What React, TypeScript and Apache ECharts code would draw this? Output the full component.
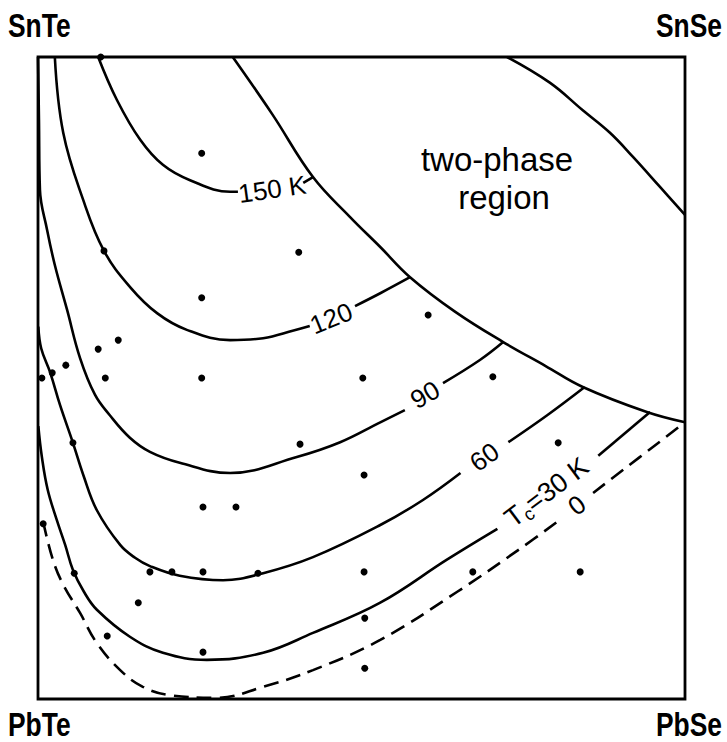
import React, { useEffect, useRef } from 'react';
import * as echarts from 'echarts';

// Composition square: x = Se fraction (0 = Te side, 100 = Se side), y = Sn fraction (0 = Pb, 100 = Sn)
const cornerLabels = ['SnTe', 'SnSe', 'PbTe', 'PbSe'];
const regionLabel = ['two-phase', 'region'];

const twoPhaseBoundary = [
  [30.1, 100], [36.2, 91.1], [42.5, 81.3], [48.2, 75.1], [52.9, 70.4], [57.5, 65.7],
  [64.5, 60.3], [71.9, 55.6], [78.4, 51.9], [84.2, 48.6], [94.1, 44.7], [100, 43.1],
];
const cornerBoundary = [
  [72.5, 100], [79.1, 96.0], [84.2, 91.7], [88.4, 88.2], [92.0, 84.4], [96.1, 79.8], [100, 75.4],
];

const contour150Left = [
  [9.3, 100], [12.2, 93.3], [15.8, 87.1], [19.3, 83.2], [23.5, 80.8], [29.7, 79.0], [30.9, 79.0],
];
const contour150Right = [[41.0, 80.4], [42.5, 81.3]];

const contour120Left = [
  [2.6, 100], [3.9, 88.2], [7.0, 77.7], [10.2, 69.8], [14.2, 64.2], [18.4, 60.1], [23.0, 57.5],
  [29.7, 55.9], [34.8, 56.2], [39.5, 57.4], [42.0, 58.1],
];
const contour120Right = [[49.0, 61.2], [52.9, 63.2], [57.5, 65.7]];

const contour90Left = [
  [0, 100], [0.15, 90.2], [0.3, 79.3], [1.4, 73.1], [2.6, 67.6], [4.5, 60.6], [6.5, 53.1],
  [8.8, 47.4], [11.1, 44.2], [14.2, 40.7], [17.3, 38.5], [21.9, 36.8], [29.7, 35.2],
  [40.0, 37.7], [46.7, 40.0], [52.9, 43.1], [56.7, 45.0],
];
const contour90Right = [[62.6, 49.2], [68.3, 52.8], [71.9, 55.6]];

const contour60Left = [
  [0.05, 58.0], [0.5, 54.6], [1.9, 50.8], [3.4, 45.8], [5.4, 39.9], [7.0, 34.9], [9.1, 29.4],
  [12.7, 24.0], [15.0, 22.0], [17.3, 20.7], [21.9, 19.2], [28.6, 18.5], [34.8, 19.6],
  [42.5, 22.1], [52.9, 27.1], [59.5, 31.0], [65.3, 35.2],
];
const contour60Right = [[72.7, 40.0], [78.7, 44.2], [84.5, 48.6]];

const contour30Left = [
  [0.05, 42.5], [0.6, 37.7], [1.5, 32.6], [2.9, 27.9], [4.2, 24.0], [5.4, 20.1], [7.1, 16.7],
  [9.1, 13.9], [14.2, 9.7], [19.3, 7.2], [26.1, 6.1], [34.8, 7.2], [42.5, 10.3], [52.9, 15.0],
  [63.2, 21.7], [71.0, 26.5],
];
const contour30Right = [[86.6, 37.9], [94.6, 44.7]];

const contour0Left = [
  [0.8, 27.6], [2.3, 21.7], [3.9, 17.8], [6.5, 13.4], [9.1, 8.7], [12.7, 4.5], [16.2, 1.9],
  [20.4, 0.6], [27.7, 0.2], [34.8, 1.9], [42.5, 4.5], [52.9, 9.2], [64.8, 16.7], [74.5, 23.4],
  [80.8, 28.0],
];
const contour0Right = [[85.8, 32.1], [100, 43.1]];

const contourLabelTexts = ['150 K', '120', '90', '60', 'Tc=30 K', '0'];
const contourLabelAnchors = [
  [36.2, 79.4], [45.3, 59.3], [59.8, 47.4], [69.0, 37.7], [78.6, 32.2], [83.3, 30.2],
];

const samplePoints = [
  [9.7, 100], [25.3, 85.0], [40.3, 69.6], [10.2, 69.8], [25.3, 62.5], [60.3, 59.8],
  [12.4, 55.9], [9.3, 54.5], [4.3, 52.0], [2.2, 50.8], [0.6, 50.0], [10.4, 50.0],
  [25.3, 50.0], [50.2, 50.0], [70.3, 50.2], [5.4, 39.9], [40.5, 39.7], [80.4, 39.9],
  [50.4, 34.9], [25.5, 29.9], [30.6, 29.9], [5.6, 19.6], [17.3, 19.8], [20.7, 19.8],
  [25.5, 19.8], [34.0, 19.6], [50.4, 19.8], [67.2, 19.8], [83.8, 19.8], [15.5, 15.0],
  [50.5, 12.6], [10.7, 9.8], [25.5, 7.3], [50.5, 4.8], [0.8, 27.3],
];

const labelAngles = [8, 22, 30, 35, 37, 37];
const FONT = '"Liberation Sans", "DejaVu Sans", sans-serif';

function solid(data: number[][]) {
  return {
    type: 'line', data, smooth: 0.4, symbol: 'none', silent: true, z: 3,
    lineStyle: { color: '#000', width: 2.6, opacity: 1 },
  };
}
function dashed(data: number[][]) {
  return {
    type: 'line', data, smooth: 0.4, symbol: 'none', silent: true, z: 3,
    lineStyle: { color: '#000', width: 2.6, type: [15, 8], opacity: 1 },
  };
}

function buildOption() {
  const labelData = contourLabelTexts.map((t, i) => {
    const isTc = t.startsWith('Tc');
    return {
      value: contourLabelAnchors[i],
      label: {
        show: true,
        position: 'inside',
        rotate: labelAngles[i],
        formatter: isTc ? '{t|T}{s|c}{t|=30 K}' : t,
      },
    };
  });
  const cornerText = (text: string, x: number, y: number, align: string) => ({
    type: 'text', x, y, scaleX: 0.8, silent: true,
    style: {
      text, fill: '#000', font: `bold 33px ${FONT}`,
      textAlign: align, align, textVerticalAlign: 'middle', verticalAlign: 'middle',
    },
  });
  const regionText = (text: string, x: number, y: number) => ({
    type: 'text', x, y, silent: true,
    style: {
      text, fill: '#000', font: `33px ${FONT}`,
      textAlign: 'center', align: 'center', textVerticalAlign: 'middle', verticalAlign: 'middle',
    },
  });
  return {
    animation: false,
    backgroundColor: '#fff',
    grid: {
      left: 38, top: 57, width: 647, height: 642,
      show: true, borderColor: '#000', borderWidth: 2.8, backgroundColor: 'transparent',
    },
    xAxis: { type: 'value', min: 0, max: 100, show: false },
    yAxis: { type: 'value', min: 0, max: 100, show: false },
    series: [
      solid(twoPhaseBoundary),
      solid(cornerBoundary),
      solid(contour150Left), solid(contour150Right),
      solid(contour120Left), solid(contour120Right),
      solid(contour90Left), solid(contour90Right),
      solid(contour60Left), solid(contour60Right),
      solid(contour30Left), solid(contour30Right),
      dashed(contour0Left), dashed(contour0Right),
      {
        type: 'scatter', data: samplePoints, symbolSize: 7, silent: true, z: 4,
        itemStyle: { color: '#000', opacity: 1 },
      },
      {
        type: 'scatter', data: labelData, symbolSize: 1, silent: true, z: 5,
        itemStyle: { color: 'rgba(0,0,0,0)', opacity: 1 },
        label: {
          show: true, position: 'inside', color: '#000', fontFamily: FONT, fontSize: 26,
          textBorderWidth: 0, opacity: 1,
          rich: {
            t: { fontSize: 27, fontFamily: FONT, color: '#000', lineHeight: 32 },
            s: { fontSize: 18, fontFamily: FONT, color: '#000', verticalAlign: 'bottom' },
          },
        },
      },
    ],
    graphic: [
      cornerText(cornerLabels[0], 8, 25, 'left'),
      cornerText(cornerLabels[1], 722, 25, 'right'),
      cornerText(cornerLabels[2], 8, 724, 'left'),
      cornerText(cornerLabels[3], 722, 724, 'right'),
      regionText(regionLabel[0], 497, 159),
      regionText(regionLabel[1], 504, 197),
    ],
  };
}

export default function App() {
  const ref = useRef<HTMLDivElement>(null);
  useEffect(() => {
    if (!ref.current) return;
    const chart = echarts.init(ref.current, undefined, { renderer: 'svg' });
    chart.setOption(buildOption() as any);
    return () => chart.dispose();
  }, []);
  return (
    <div
      ref={ref}
      style={{ position: 'absolute', left: 0, top: 0, width: 727, height: 742, background: '#fff' }}
    />
  );
}
